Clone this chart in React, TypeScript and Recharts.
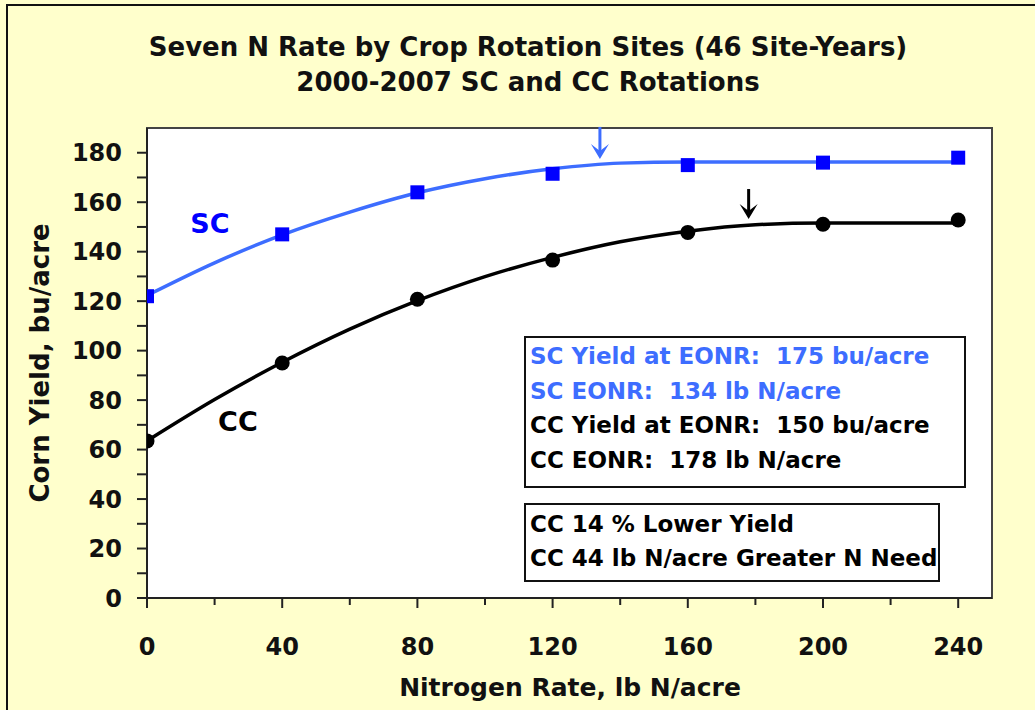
import { ComposedChart, Line, Scatter, XAxis, YAxis, ReferenceArea, ReferenceDot } from 'recharts';

const nRates = [0, 40, 80, 120, 160, 200, 240];
const scYield = [122, 147, 164, 171.5, 175, 176, 178];
const ccYield = [63.5, 95, 120.8, 136.6, 147.8, 151.1, 152.8];

// fitted response curves
const fitRates = [0, 20, 40, 60, 80, 100, 120, 140, 160, 180, 200, 220, 240];
const scFit = [122.3, 135.5, 146.8, 156, 163.8, 169.5, 173.5, 175.8, 176.3, 176.3, 176.3, 176.3, 176.3];
const ccFit = [63.5, 80.2, 95.3, 108.7, 120.2, 129.9, 137.7, 144, 148.3, 150.9, 151.6, 151.6, 151.6];

const xTicks = [0, 20, 40, 60, 80, 100, 120, 140, 160, 180, 200, 220, 240];
const yTicks = [0, 10, 20, 30, 40, 50, 60, 70, 80, 90, 100, 110, 120, 130, 140, 150, 160, 170, 180];

const scEonr = 134;
const ccEonr = 178;

const FONT = '"DejaVu Sans", Arial, sans-serif';
const SC_LINE = '#3D6DFF';
const SC_MARK = '#0000FF';

const scPts = nRates.map((x, i) => ({ x, y: scYield[i] }));
const ccPts = nRates.map((x, i) => ({ x, y: ccYield[i] }));
const scCurve = fitRates.map((x, i) => ({ x, y: scFit[i] }));
const ccCurve = fitRates.map((x, i) => ({ x, y: ccFit[i] }));

const XTick = (p: any) => {
  const v = p.payload.value;
  const major = v % 40 === 0;
  return (
    <g>
      <line x1={p.x} x2={p.x} y1={p.y} y2={p.y + (major ? 10 : 7)} stroke="#222" strokeWidth={2} />
      {major && (
        <text x={p.x} y={p.y + 57} textAnchor="middle" fontFamily={FONT} fontWeight="bold" fontSize={24} fill="#111">{v}</text>
      )}
    </g>
  );
};

const YTick = (p: any) => {
  const v = p.payload.value;
  const major = v % 20 === 0;
  return (
    <g>
      <line x1={p.x - 10} x2={p.x} y1={p.y} y2={p.y} stroke="#222" strokeWidth={2} />
      {major && (
        <text x={p.x - 25} y={p.y + 8.5} textAnchor="end" fontFamily={FONT} fontWeight="bold" fontSize={24} fill="#111">{v}</text>
      )}
    </g>
  );
};

const arrow = (color: string, len: number) => (p: any) => (
  <g>
    <line x1={p.cx} x2={p.cx} y1={p.cy - len} y2={p.cy - 6} stroke={color} strokeWidth={3} />
    <path d={`M${p.cx - 9},${p.cy - 15} L${p.cx},${p.cy} L${p.cx + 9},${p.cy - 15} L${p.cx},${p.cy - 8} Z`} fill={color} />
  </g>
);

const seriesLabel = (text: string, color: string) => (p: any) => (
  <text x={p.cx} y={p.cy + 10} textAnchor="middle" fontFamily={FONT} fontWeight="bold" fontSize={27} fill={color}>{text}</text>
);

const boxStyle: React.CSSProperties = {
  position: 'absolute', left: 524, background: '#fff', border: '2px solid #111',
  fontFamily: FONT, fontWeight: 'bold', fontSize: 23, lineHeight: '34.5px', whiteSpace: 'pre', boxSizing: 'border-box',
};

export default function App() {
  return (
    <div style={{ position: 'absolute', left: 0, top: 0, width: 1035, height: 710, background: '#FFFFCC', overflow: 'hidden' }}>
      <div style={{ position: 'absolute', left: 6, top: 4, width: 1040, height: 720, borderLeft: '2px solid #111', borderTop: '2px solid #111' }} />
      <div style={{ position: 'absolute', left: 20, top: 30, width: 1016, textAlign: 'center', fontFamily: FONT, fontWeight: 'bold', fontSize: 26, lineHeight: '35px', color: '#111' }}>
        Seven N Rate by Crop Rotation Sites (46 Site-Years)<br />2000-2007 SC and CC Rotations
      </div>
      <ComposedChart width={1035} height={710} margin={{ top: 128, right: 43, bottom: 0, left: 0 }} style={{ position: 'absolute', left: 0, top: 0 }}>
        <XAxis type="number" dataKey="x" domain={[0, 250]} ticks={xTicks} interval={0} height={112}
          tickSize={0} tickMargin={0} tickLine={false} axisLine={{ stroke: '#222', strokeWidth: 2 }} tick={<XTick />} allowDataOverflow />
        <YAxis type="number" dataKey="y" domain={[0, 190]} ticks={yTicks} interval={0} width={147}
          tickSize={0} tickMargin={0} tickLine={false} axisLine={{ stroke: '#222', strokeWidth: 2 }} tick={<YTick />} allowDataOverflow />
        <ReferenceArea x1={0} x2={250} y1={0} y2={190} fill="#fff" fillOpacity={1} stroke="#444" strokeWidth={2} ifOverflow="visible" />
        <Line data={scCurve} dataKey="y" type="monotone" stroke={SC_LINE} strokeWidth={3.5} dot={false} activeDot={false} isAnimationActive={false} />
        <Line data={ccCurve} dataKey="y" type="monotone" stroke="#000" strokeWidth={3.5} dot={false} activeDot={false} isAnimationActive={false} />
        <Scatter data={scPts} dataKey="y" isAnimationActive={false}
          shape={(p: any) => <rect x={p.cx - 7} y={p.cy - 7} width={14} height={14} fill={SC_MARK} />} />
        <Scatter data={ccPts} dataKey="y" isAnimationActive={false}
          shape={(p: any) => <circle cx={p.cx} cy={p.cy} r={7.5} fill="#000" />} />
        <ReferenceDot x={scEonr} y={177.5} shape={arrow(SC_LINE, 32)} ifOverflow="visible" />
        <ReferenceDot x={ccEonr} y={153.2} shape={arrow('#000', 30)} ifOverflow="visible" />
        <ReferenceDot x={18.6} y={151.6} shape={seriesLabel('SC', SC_MARK)} ifOverflow="visible" />
        <ReferenceDot x={26.9} y={71.7} shape={seriesLabel('CC', '#000')} ifOverflow="visible" />
      </ComposedChart>
      <div style={{ ...boxStyle, top: 336, width: 442, height: 152, padding: '1px 4px' }}>
        <div style={{ color: SC_LINE }}>SC Yield at EONR:  175 bu/acre</div>
        <div style={{ color: SC_LINE }}>SC EONR:  134 lb N/acre</div>
        <div style={{ color: '#000' }}>CC Yield at EONR:  150 bu/acre</div>
        <div style={{ color: '#000' }}>CC EONR:  178 lb N/acre</div>
      </div>
      <div style={{ ...boxStyle, top: 503, width: 416, height: 79, padding: '2px 4px', lineHeight: '34px', color: '#000' }}>
        <div>CC 14 % Lower Yield</div>
        <div>CC 44 lb N/acre Greater N Need</div>
      </div>
      <div style={{ position: 'absolute', left: 270, top: 673, width: 600, textAlign: 'center', fontFamily: FONT, fontWeight: 'bold', fontSize: 25, lineHeight: '30px', color: '#111' }}>
        Nitrogen Rate, lb N/acre
      </div>
      <div style={{ position: 'absolute', left: 40, top: 363, transform: 'translate(-50%, -50%) rotate(-90deg)', whiteSpace: 'nowrap', fontFamily: FONT, fontWeight: 'bold', fontSize: 26, lineHeight: '30px', color: '#111' }}>
        Corn Yield, bu/acre
      </div>
    </div>
  );
}
